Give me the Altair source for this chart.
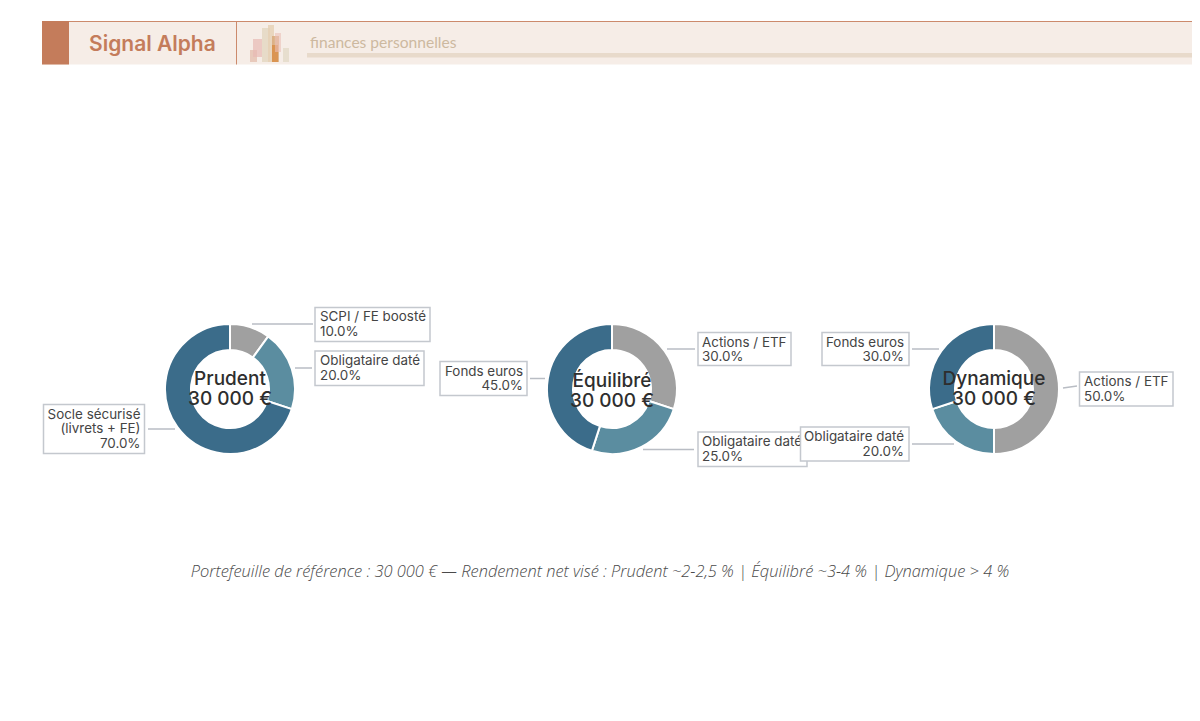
import altair as alt
import pandas as pd

# ---- values
profiles = ["Prudent", "Équilibré", "Dynamique"]
amount_label = "30 000 €"
slots = ["croissance", "obligataire", "socle"]
prudent_names = ["SCPI / FE boosté", "Obligataire daté", ["Socle sécurisé", "(livrets + FE)"]]
prudent_values = [10.0, 20.0, 70.0]
equilibre_names = ["Actions / ETF", "Obligataire daté", "Fonds euros"]
equilibre_values = [30.0, 25.0, 45.0]
dynamique_names = ["Actions / ETF", "Obligataire daté", "Fonds euros"]
dynamique_values = [50.0, 20.0, 30.0]
slot_colors = ["#A0A0A0", "#5B8DA0", "#3B6C8A"]
brand = "Signal Alpha"
tagline = "finances personnelles"
footer = "Portefeuille de référence : 30 000 € — Rendement net visé : Prudent ~2-2,5 % | Équilibré ~3-4 % | Dynamique > 4 %"

M = 8  # page margin
one = alt.Data(values=[{"k": 1}])


def rect(x0, x1, y0, y1, fill, opacity=1.0, stroke=None, sw=0):
    kw = dict(fill=fill, opacity=opacity)
    if stroke:
        kw.update(stroke=stroke, strokeWidth=sw)
    return alt.Chart(one).mark_rect(**kw).encode(
        x=alt.value(x0 - M), x2=alt.value(x1 - M), y=alt.value(y0 - M), y2=alt.value(y1 - M))


def rule(x0, y0, x1, y1, color="#B9BDC4", w=1.5):
    return alt.Chart(one).mark_rule(color=color, strokeWidth=w).encode(
        x=alt.value(x0 - M), x2=alt.value(x1 - M), y=alt.value(y0 - M), y2=alt.value(y1 - M))


def text(s, x, y, size=13.4, color="#444444", align="left", font="Inter", weight=400, style="normal"):
    return alt.Chart(one).mark_text(
        align=align, baseline="alphabetic", font=font, fontSize=size, color=color,
        fontWeight=weight, fontStyle=style
    ).encode(x=alt.value(x - M), y=alt.value(y - M), text=alt.value(s))


def donut(cx, cy, values):
    df = pd.DataFrame({"slot": slots, "value": values, "rank": [0, 1, 2]})
    return alt.Chart(alt.Data(values=df.to_dict("records"))).mark_arc(
        radius=65, innerRadius=39, stroke="white", strokeWidth=2
    ).encode(
        x=alt.value(cx - M), y=alt.value(cy - M),
        theta=alt.Theta("value:Q", stack=True, scale=alt.Scale(domain=[0, 100], range=[0, 6.28319])),
        color=alt.Color("slot:N", scale=alt.Scale(domain=slots, range=slot_colors), legend=None),
        order=alt.Order("rank:Q"),
    )


def label(name, value, box, anchor_x, first_base, leader):
    x0, x1, y0, y1 = box
    lines = name if isinstance(name, list) else [name]
    lines = lines + [f"{value:.1f}%"]
    align = "right" if anchor_x > (x0 + x1) / 2 else "left"
    out = [rect(x0, x1, y0, y1, "white", stroke="#C4C8CE", sw=1.5), rule(*leader)]
    for i, ln in enumerate(lines):
        out.append(text(ln, anchor_x, first_base + i * 14.6, align=align))
    return out


layers = []
# header
layers += [
    rect(42, 1192, 21, 64.5, "#F6EDE7"),
    rect(42, 1192, 21, 22, "#CC8A6C"),
    rect(42, 69, 21, 64.5, "#C47C5B"),
    rect(236, 237, 21, 64.5, "#CC8A6C"),
    rect(307, 1192, 53, 57.5, "#E8DACB"),
    rect(250, 257, 50, 62, "#E3B9A8", 0.7),
    rect(253, 262, 39, 57, "#E8B9B4", 0.7),
    rect(262, 270, 28, 62, "#E6D8C4", 0.9),
    rect(268, 274, 25, 62, "#E6D0B4", 0.8),
    rect(272, 279, 36, 62, "#D8A878", 0.8),
    rect(272, 278, 45, 62, "#D9883A", 0.7),
    rect(275, 281, 33, 52, "#EBBFB8", 0.6),
    rect(283, 289, 48, 62, "#E6DCCB", 0.9),
    text(brand, 89, 50.5, size=21, color="#C47C5B", font="Inter", weight=600),
    text(tagline, 310, 47.5, size=15.6, color="#CDB9A0", font="Lato", weight=400),
]

# donuts
layers += [donut(230, 389, prudent_values), donut(612, 389, equilibre_values), donut(994, 389, dynamique_values)]

# labels
layers += label(prudent_names[0], prudent_values[0], (315, 430, 307.5, 341.5), 320, 321, (252, 324, 313, 324))
layers += label(prudent_names[1], prudent_values[1], (315, 424, 351, 385.5), 320, 365, (295, 368, 312, 368))
layers += label(prudent_names[2], prudent_values[2], (43.5, 144.5, 404.5, 453.5), 140.5, 418.5, (148, 429, 175, 429))
layers += label(equilibre_names[0], equilibre_values[0], (698, 791, 332.5, 365.5), 702, 346.5, (667, 349, 695, 349))
layers += label(equilibre_names[2], equilibre_values[2], (440, 527, 361.5, 395.5), 523, 375.5, (530, 378.5, 545, 378.5))
layers += label(equilibre_names[1], equilibre_values[1], (698, 807, 432, 466.5), 702, 446, (643, 449.5, 694, 449.5))
layers += label(dynamique_names[2], dynamique_values[2], (822, 909, 332.5, 365.5), 904, 346.5, (912, 349, 939, 349))
layers += label(dynamique_names[0], dynamique_values[0], (1079.5, 1173, 372, 406), 1084, 386, (1063, 388, 1077, 386))
layers += label(dynamique_names[1], dynamique_values[1], (800.5, 909, 427, 461), 904, 441, (912, 444, 954, 444))

# centre captions
for cx, cy, name in zip((230, 612, 994), (384.5, 386.5, 384.5), profiles):
    layers.append(text(name, cx, cy, size=19, color="#2E2E2E", align="center", weight=500))
    layers.append(text(amount_label, cx, cy + 20.5, size=19, color="#2E2E2E", align="center", weight=500))

# footer
layers.append(text(footer, 600, 576.5, size=16.4, color="#4A4A4A", align="center", font="Open Sans", weight=300, style="italic"))

chart = alt.layer(*layers).properties(
    width=1184, height=700, padding=0, autosize=alt.AutoSizeParams(type="none"),
    background="white",
).configure_view(stroke=None)

chart.save("out.html", embed_options={"renderer": "svg", "actions": False})
